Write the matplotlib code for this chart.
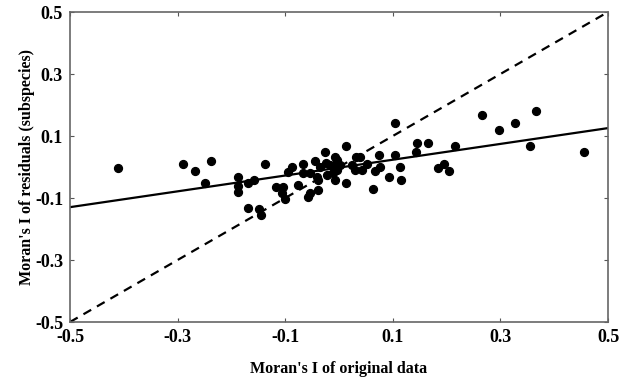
import matplotlib
matplotlib.use("Agg")
import matplotlib.pyplot as plt
import numpy as np

# Moran's I of original data (x) vs residuals (y)
moran_original = [-0.411, -0.290, -0.268, -0.238, -0.249, -0.188, -0.188, -0.188,
                  -0.169, -0.158, -0.169, -0.149, -0.145, -0.138, -0.117, -0.106,
                  -0.104, -0.100, -0.095, -0.087, -0.076, -0.067, -0.067, -0.058,
                  -0.054, -0.054, -0.045, -0.041, -0.039, -0.039, -0.035, -0.026,
                  -0.024, -0.022, -0.013, -0.011, -0.004, -0.004, -0.007, -0.017,
                  0.002, -0.007, 0.013, 0.013, 0.024, 0.030, 0.032, 0.039,
                  0.043, 0.052, 0.067, 0.063, 0.074, 0.076, 0.093, 0.104,
                  0.104, 0.113, 0.115, 0.143, 0.145, 0.165, 0.184, 0.195,
                  0.204, 0.216, 0.266, 0.297, 0.327, 0.355, 0.366, 0.455]
moran_residuals = [-0.003, 0.010, -0.013, 0.019, -0.052, -0.032, -0.061, -0.081,
                   -0.052, -0.042, -0.132, -0.135, -0.155, 0.010, -0.065, -0.084,
                   -0.065, -0.103, -0.016, 0.000, -0.058, 0.010, -0.019, -0.097,
                   -0.084, -0.019, 0.019, -0.032, -0.074, -0.042, 0.000, 0.048,
                   0.013, -0.026, 0.003, -0.019, 0.023, -0.010, 0.032, 0.006,
                   0.006, -0.042, 0.068, -0.052, 0.006, -0.010, 0.032, 0.032,
                   -0.010, 0.010, -0.013, -0.071, 0.039, 0.000, -0.032, 0.039,
                   0.142, 0.000, -0.042, 0.048, 0.077, 0.077, -0.003, 0.010,
                   -0.013, 0.068, 0.168, 0.119, 0.142, 0.068, 0.181, 0.048]

# regression line
fit_slope = 0.255
fit_intercept = -0.002

ticks = [-0.5, -0.3, -0.1, 0.1, 0.3, 0.5]

plt.rcParams['font.family'] = ['Liberation Serif', 'DejaVu Serif']
plt.rcParams['font.weight'] = 'bold'

fig = plt.figure(figsize=(6.22, 3.80), dpi=100)
ax = fig.add_axes([0.1125, 0.1526, 0.865, 0.8158])

xs = np.array([-0.5, 0.5])
ax.plot(xs, xs, color='black', linestyle=(0, (4, 3)), linewidth=1.6)
ax.plot(xs, fit_slope * xs + fit_intercept, color='black', linewidth=1.6)
ax.scatter(moran_original, moran_residuals, s=32, color='black', zorder=3)

ax.set_xlim(-0.5, 0.5)
ax.set_ylim(-0.5, 0.5)
ax.set_xticks(ticks)
ax.set_yticks(ticks)
ax.set_xticklabels([f"{t:.1f}" for t in ticks])
ax.set_yticklabels([f"{t:.1f}" for t in ticks])
ax.tick_params(direction='in', length=3, width=0.8, labelsize=13,
               top=True, right=True, color='#555555', pad=5)
for sp in ax.spines.values():
    sp.set_color('#666666')
    sp.set_linewidth(1.2)

ax.set_xlabel("Moran's I of original data", fontsize=11.5, fontweight='bold', labelpad=11)
ax.set_ylabel("Moran's I of residuals (subspecies)", fontsize=11.5, fontweight='bold', labelpad=0)

fig.savefig("out.png", dpi=100)
